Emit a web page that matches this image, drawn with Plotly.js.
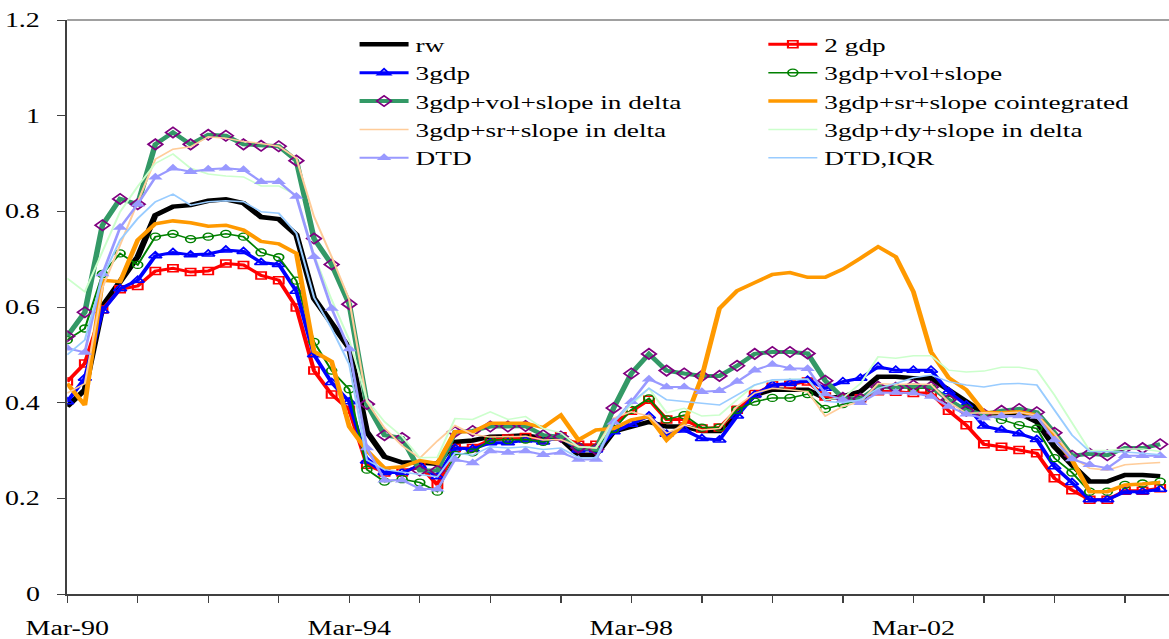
<!DOCTYPE html>
<html><head><meta charset="utf-8">
<script src="https://cdn.plot.ly/plotly-3.0.1.min.js"></script>
<style>
html,body{margin:0;padding:0;background:#fff;overflow:hidden;}
#wrap{width:1169px;height:639px;overflow:hidden;position:relative;}
#chart{width:835px;height:639px;transform:scaleX(1.4);transform-origin:0 0;}
</style></head><body><div id="wrap"><div id="chart"></div></div>
<script>
// Quarterly periods Mar-90 .. Sep-05
const months = ["Mar","Jun","Sep","Dec"];
const quarters = [];
for (let y = 1990; y <= 2005; y++) {
  for (const m of months) {
    if (quarters.length < 63) quarters.push(m + "-" + String(y % 100).padStart(2, "0"));
  }
}
const tickLabels = ["Mar-90","Mar-94","Mar-98","Mar-02"];

const rw = [0.392,0.427,0.601,0.651,0.705,0.792,0.810,0.813,0.822,0.825,0.817,0.788,0.784,0.751,0.618,0.566,0.514,0.339,0.287,0.275,0.275,0.272,0.318,0.321,0.329,0.330,0.332,0.325,0.325,0.291,0.291,0.340,0.351,0.360,0.350,0.350,0.341,0.341,0.381,0.416,0.427,0.428,0.427,0.409,0.413,0.423,0.454,0.454,0.451,0.451,0.427,0.402,0.378,0.378,0.378,0.360,0.308,0.270,0.235,0.235,0.249,0.249,0.246];
const gdp2 = [0.444,0.482,0.595,0.637,0.644,0.675,0.681,0.673,0.675,0.691,0.688,0.666,0.656,0.599,0.467,0.417,0.385,0.270,0.254,0.254,0.268,0.228,0.305,0.305,0.322,0.325,0.328,0.322,0.330,0.312,0.312,0.358,0.383,0.406,0.365,0.365,0.346,0.348,0.385,0.418,0.437,0.438,0.444,0.413,0.409,0.409,0.424,0.423,0.420,0.420,0.383,0.353,0.313,0.308,0.301,0.294,0.242,0.217,0.197,0.197,0.216,0.216,0.221];
const gdp3 = [0.402,0.451,0.592,0.638,0.656,0.707,0.714,0.709,0.711,0.719,0.716,0.693,0.689,0.633,0.500,0.442,0.402,0.278,0.254,0.254,0.268,0.245,0.305,0.303,0.316,0.316,0.322,0.318,0.329,0.301,0.301,0.339,0.355,0.372,0.334,0.343,0.325,0.322,0.372,0.416,0.437,0.440,0.447,0.430,0.444,0.451,0.475,0.468,0.468,0.468,0.423,0.395,0.351,0.343,0.335,0.323,0.266,0.233,0.197,0.197,0.214,0.214,0.219];
const volSlope = [0.531,0.555,0.669,0.712,0.688,0.747,0.753,0.742,0.747,0.753,0.747,0.714,0.704,0.655,0.527,0.467,0.428,0.260,0.235,0.240,0.233,0.214,0.291,0.296,0.322,0.322,0.323,0.318,0.330,0.308,0.305,0.345,0.385,0.409,0.365,0.374,0.348,0.348,0.385,0.402,0.410,0.410,0.418,0.387,0.397,0.406,0.431,0.431,0.430,0.430,0.406,0.388,0.376,0.364,0.353,0.346,0.284,0.254,0.214,0.214,0.228,0.231,0.235];
const volSlopeDelta = [0.539,0.589,0.771,0.826,0.815,0.940,0.965,0.940,0.960,0.958,0.940,0.937,0.936,0.906,0.743,0.689,0.606,0.397,0.332,0.326,0.258,0.258,0.339,0.341,0.350,0.350,0.351,0.332,0.329,0.306,0.302,0.389,0.461,0.502,0.467,0.461,0.456,0.456,0.477,0.502,0.506,0.506,0.503,0.446,0.410,0.408,0.433,0.431,0.436,0.433,0.406,0.383,0.376,0.383,0.387,0.380,0.337,0.289,0.293,0.290,0.305,0.305,0.313];
const srSlopeCoint = [0.440,0.395,0.656,0.653,0.740,0.774,0.780,0.776,0.769,0.771,0.761,0.737,0.732,0.712,0.507,0.486,0.350,0.300,0.263,0.266,0.279,0.273,0.339,0.339,0.357,0.357,0.357,0.348,0.374,0.322,0.343,0.346,0.364,0.371,0.322,0.357,0.454,0.597,0.634,0.651,0.668,0.672,0.662,0.662,0.679,0.702,0.726,0.705,0.632,0.506,0.452,0.427,0.380,0.379,0.381,0.374,0.329,0.280,0.214,0.214,0.228,0.230,0.233];
const srSlopeDelta = [0.420,0.440,0.640,0.730,0.820,0.909,0.930,0.935,0.956,0.953,0.946,0.942,0.936,0.911,0.789,0.705,0.615,0.402,0.347,0.310,0.284,0.320,0.352,0.334,0.328,0.329,0.330,0.322,0.323,0.308,0.305,0.368,0.381,0.372,0.336,0.353,0.343,0.346,0.392,0.420,0.430,0.427,0.423,0.372,0.392,0.402,0.440,0.438,0.439,0.438,0.402,0.378,0.379,0.378,0.380,0.374,0.336,0.286,0.263,0.259,0.270,0.273,0.275];
const dySlopeDelta = [0.660,0.632,0.716,0.799,0.852,0.900,0.920,0.890,0.878,0.874,0.872,0.853,0.853,0.834,0.709,0.615,0.531,0.406,0.360,0.329,0.285,0.286,0.367,0.365,0.381,0.365,0.371,0.346,0.337,0.308,0.306,0.360,0.395,0.430,0.379,0.388,0.372,0.374,0.406,0.437,0.446,0.449,0.449,0.406,0.410,0.440,0.496,0.493,0.498,0.498,0.468,0.464,0.466,0.474,0.474,0.468,0.416,0.357,0.300,0.300,0.303,0.303,0.298];
const dtd = [0.514,0.505,0.669,0.766,0.815,0.871,0.890,0.883,0.888,0.890,0.887,0.862,0.862,0.831,0.705,0.597,0.512,0.305,0.238,0.238,0.220,0.219,0.281,0.274,0.299,0.296,0.299,0.291,0.296,0.281,0.281,0.359,0.402,0.449,0.433,0.433,0.423,0.425,0.444,0.468,0.480,0.472,0.471,0.418,0.406,0.400,0.421,0.421,0.420,0.413,0.392,0.376,0.368,0.372,0.372,0.371,0.322,0.282,0.270,0.263,0.289,0.289,0.289];
const dtdIqr = [0.500,0.531,0.662,0.740,0.785,0.820,0.836,0.813,0.820,0.822,0.820,0.799,0.796,0.754,0.620,0.555,0.480,0.280,0.260,0.255,0.250,0.245,0.295,0.290,0.308,0.305,0.308,0.302,0.305,0.285,0.285,0.360,0.400,0.430,0.406,0.403,0.399,0.395,0.416,0.437,0.448,0.448,0.449,0.403,0.400,0.406,0.430,0.440,0.452,0.458,0.444,0.437,0.433,0.439,0.440,0.437,0.385,0.332,0.298,0.298,0.297,0.294,0.291];

const xIdx = quarters.map((q, i) => i);
const tickIdx = quarters.map((q, i) => i).filter(i => i % 4 === 0);
const tickText = tickIdx.map(i => tickLabels.includes(quarters[i]) ? quarters[i] : "");

function tr(name, y, line, marker, legend) {
  const t = {x: xIdx, y: y, name: name, type: 'scatter', legend: legend, legendgroup: name,
    mode: marker ? 'lines+markers' : 'lines', line: line, hoverinfo: 'skip'};
  if (marker) t.marker = marker;
  return t;
}
const data = [
  tr('rw', rw, {color: '#000000', width: 4.5}, null, 'legend'),
  tr('2 gdp', gdp2, {color: '#FF0000', width: 3}, {symbol: 'square-open', size: 7, color: '#FF0000', line: {width: 1.5}}, 'legend2'),
  tr('3gdp', gdp3, {color: '#0000FF', width: 3}, {symbol: 'triangle-up-open', size: 8, color: '#0000FF', line: {width: 1.5}}, 'legend'),
  tr('3gdp+vol+slope', volSlope, {color: '#008000', width: 1.5}, {symbol: 'circle-open', size: 7, color: '#008000', line: {width: 1.3}}, 'legend2'),
  tr('3gdp+vol+slope in delta', volSlopeDelta, {color: '#339966', width: 4}, {symbol: 'diamond-open', size: 8, color: '#800080', line: {width: 1.5}}, 'legend'),
  tr('3gdp+sr+slope cointegrated', srSlopeCoint, {color: '#FF9900', width: 3.5}, null, 'legend2'),
  tr('3gdp+sr+slope in delta', srSlopeDelta, {color: '#FFCC99', width: 1.5}, null, 'legend'),
  tr('3gdp+dy+slope in delta', dySlopeDelta, {color: '#CCFFCC', width: 1.5}, null, 'legend2'),
  tr('DTD', dtd, {color: '#9999FF', width: 2}, {symbol: 'triangle-up', size: 9, color: '#9999FF'}, 'legend'),
  tr('DTD,IQR', dtdIqr, {color: '#99CCFF', width: 1.5}, null, 'legend2')
];

const fontFam = '"Liberation Serif", "Times New Roman", serif';
const legBase = {orientation: 'v', yanchor: 'top', xanchor: 'left', y: 0.991,
  font: {family: fontFam, size: 19.5, color: '#000'}, bgcolor: 'rgba(0,0,0,0)',
  tracegroupgap: 3, traceorder: 'normal', itemwidth: 35};
const layout = {
  width: 835, height: 639,
  margin: {l: 48, r: 0, t: 20, b: 45},
  paper_bgcolor: '#fff', plot_bgcolor: '#fff',
  font: {family: fontFam, size: 20, color: '#000'},
  showlegend: true,
  legend: Object.assign({}, legBase, {x: 0.259}),
  legend2: Object.assign({}, legBase, {x: 0.630}),
  xaxis: {range: [0, 62.5], tickmode: 'array', tickvals: tickIdx, ticktext: tickText,
    ticks: 'outside', ticklen: 7, tickwidth: 1, tickcolor: '#404040',
    showline: true, linecolor: '#404040', linewidth: 1.5, mirror: false,
    showgrid: false, zeroline: false, fixedrange: true, ticklabelstandoff: 9,
    tickfont: {family: fontFam, size: 20, color: '#000'}},
  yaxis: {range: [0, 1.2], tick0: 0, dtick: 0.2, ticks: 'outside', ticklen: 6, tickwidth: 1,
    tickcolor: '#404040', showline: true, linecolor: '#404040', linewidth: 1.5,
    showgrid: false, zeroline: false, fixedrange: true, ticklabelstandoff: 8,
    tickfont: {family: fontFam, size: 20, color: '#000'}},
  shapes: [{type: 'line', xref: 'paper', yref: 'paper', x0: 0, x1: 1, y0: 1, y1: 1,
    line: {color: '#808080', width: 1.5}}]
};
Plotly.newPlot('chart', data, layout, {staticPlot: true, displayModeBar: false});
</script></body></html>
